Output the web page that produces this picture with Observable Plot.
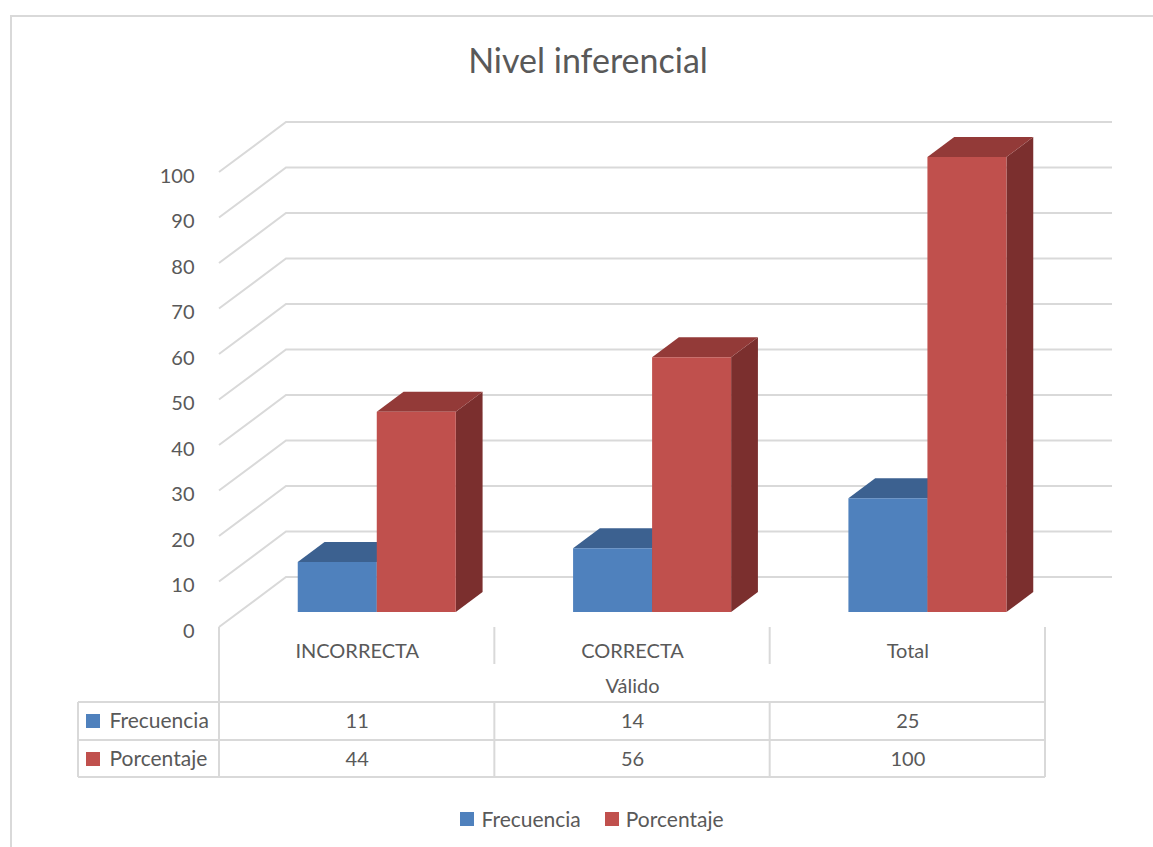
<!DOCTYPE html>
<html>
<head>
<meta charset="utf-8">
<script src="https://cdn.jsdelivr.net/npm/d3@7"></script>
<script src="https://cdn.jsdelivr.net/npm/@observablehq/plot@0.6"></script>
<style>
  html, body { margin: 0; padding: 0; background: #fff; }
  body { width: 1153px; height: 847px; overflow: hidden; position: relative; font-family: Lato, "Open Sans", sans-serif; color: #595959; }
  #frame { position: absolute; left: 10px; top: 15px; width: 1160px; height: 850px; border: 2px solid #d9d9d9; box-sizing: border-box; }
  #title { position: absolute; left: 0; width: 1176px; top: 43px; text-align: center; font-size: 34px; line-height: 34px; color: #595959; }
  #chart { position: absolute; left: 0; top: 95px; }
  #legend { position: absolute; left: 0; width: 1184px; top: 808px; display: flex; justify-content: center; align-items: center; font-size: 21px; line-height: 22px; }
  #legend .item { display: flex; align-items: center; margin: 0 12px; }
  #legend .sw { width: 14px; height: 14px; margin-right: 7px; }
</style>
</head>
<body>
<div id="frame"></div>
<div id="title">Nivel inferencial</div>
<div id="chart"></div>
<div id="legend"></div>
<script>
// ---- data ----
const categories = ["INCORRECTA", "CORRECTA", "Total"];
const groupLabel = "Válido";
const seriesNames = ["Frecuencia", "Porcentaje"];
const frecuencia = [11, 14, 25];
const porcentaje = [44, 56, 100];
const yTicks = [0, 10, 20, 30, 40, 50, 60, 70, 80, 90, 100];

// ---- style ----
const frontColors = ["#4F81BD", "#C0504D"];
const topColors = ["#3C6190", "#933A38"];
const sideColors = ["#2E4A6E", "#7B2F2E"];
const gridColor = "#d9d9d9";
const DX = 67, DY = 50;          // depth projection (px)
const barD0 = 0.3, barD1 = 0.7;  // bar depth span
const barW = 0.287;              // bar width in category units

const seriesValues = [frecuencia, porcentaje];

function threeD(index, scales) {
  const {x, y} = scales;
  const g = d3.create("svg:g");
  const P = (xv, yv, d) => [x(xv) + d * DX, y(yv) - d * DY];
  const poly = (pts, fill) => g.append("path")
    .attr("d", "M" + pts.map(p => p.join(",")).join("L") + "Z")
    .attr("fill", fill);
  const n = categories.length;
  // back wall gridlines + side wall diagonals
  for (const t of yTicks) {
    const a = P(0, t, 0), b = P(0, t, 1), c = P(n, t, 1);
    g.append("path").attr("d", `M${a}L${b}L${c}`)
      .attr("fill", "none").attr("stroke", gridColor).attr("stroke-width", 2);
  }
  // bars
  categories.forEach((cat, i) => {
    seriesValues.forEach((vals, j) => {
      const v = vals[i];
      const x0 = i + 0.5 - barW + j * barW, x1 = x0 + barW;
      poly([P(x1, 0, barD0), P(x1, 0, barD1), P(x1, v, barD1), P(x1, v, barD0)], sideColors[j]);
      poly([P(x0, v, barD0), P(x1, v, barD0), P(x1, v, barD1), P(x0, v, barD1)], topColors[j]);
      poly([P(x0, 0, barD0), P(x1, 0, barD0), P(x1, v, barD0), P(x0, v, barD0)], frontColors[j]);
    });
  });
  // data table lines
  const y0 = y(0);
  const L = x(0) - 141, R = x(n);
  const line = (x1, y1, x2, y2) => g.append("line")
    .attr("x1", x1).attr("y1", y1).attr("x2", x2).attr("y2", y2)
    .attr("stroke", gridColor).attr("stroke-width", 2);
  line(x(0), y0, x(0), y0 + 150);
  line(R, y0, R, y0 + 150);
  for (let k = 1; k < n; k++) {
    line(x(k), y0, x(k), y0 + 37);
    line(x(k), y0 + 75, x(k), y0 + 150);
  }
  line(L, y0 + 75, R, y0 + 75);
  line(L, y0 + 113, R, y0 + 113);
  line(L, y0 + 150, R, y0 + 150);
  line(L, y0 + 75, L, y0 + 150);
  // series swatches in table
  seriesNames.forEach((s, j) => {
    g.append("rect").attr("x", L + 8).attr("y", y0 + 87 + j * 38)
      .attr("width", 14).attr("height", 14).attr("fill", frontColors[j]);
  });
  return g.node();
}

const txt = {fontSize: 20, fill: "#595959"};

const plot = Plot.plot({
  width: 1153,
  height: 695,
  marginLeft: 219,
  marginRight: 108,
  marginTop: 77,
  marginBottom: 163,
  x: {domain: [0, categories.length], axis: null},
  y: {domain: [0, 100], axis: null},
  style: {fontFamily: "Lato, 'Open Sans', sans-serif", color: "#595959", background: "transparent", overflow: "visible"},
  marks: [
    Plot.ruleX([0, categories.length], {y1: 0, y2: 0, stroke: "none"}),
    threeD,
    Plot.text(yTicks, {x: () => 0, y: d => d, text: d => String(d), textAnchor: "end", dx: -25, dy: 4, ...txt}),
    Plot.text(categories, {x: (d, i) => i + 0.5, y: () => 0, text: d => d, dy: 24, ...txt}),
    Plot.text([groupLabel], {x: () => categories.length / 2, y: () => 0, text: d => d, dy: 59, ...txt}),
    Plot.text(categories, {x: (d, i) => i + 0.5, y: () => 0, text: (d, i) => String(frecuencia[i]), dy: 94, ...txt}),
    Plot.text(categories, {x: (d, i) => i + 0.5, y: () => 0, text: (d, i) => String(porcentaje[i]), dy: 132, ...txt}),
    Plot.text([seriesNames[0]], {x: () => 0, y: () => 0, text: d => d, textAnchor: "start", dx: -110, dy: 94, ...txt, fontSize: 21}),
    Plot.text([seriesNames[1]], {x: () => 0, y: () => 0, text: d => d, textAnchor: "start", dx: -110, dy: 132, ...txt, fontSize: 21})
  ]
});
document.getElementById("chart").appendChild(plot);

const legend = document.getElementById("legend");
seriesNames.forEach((s, j) => {
  const item = document.createElement("div");
  item.className = "item";
  const sw = document.createElement("div");
  sw.className = "sw";
  sw.style.background = frontColors[j];
  const t = document.createElement("span");
  t.textContent = s;
  item.appendChild(sw);
  item.appendChild(t);
  legend.appendChild(item);
});
</script>
</body>
</html>
